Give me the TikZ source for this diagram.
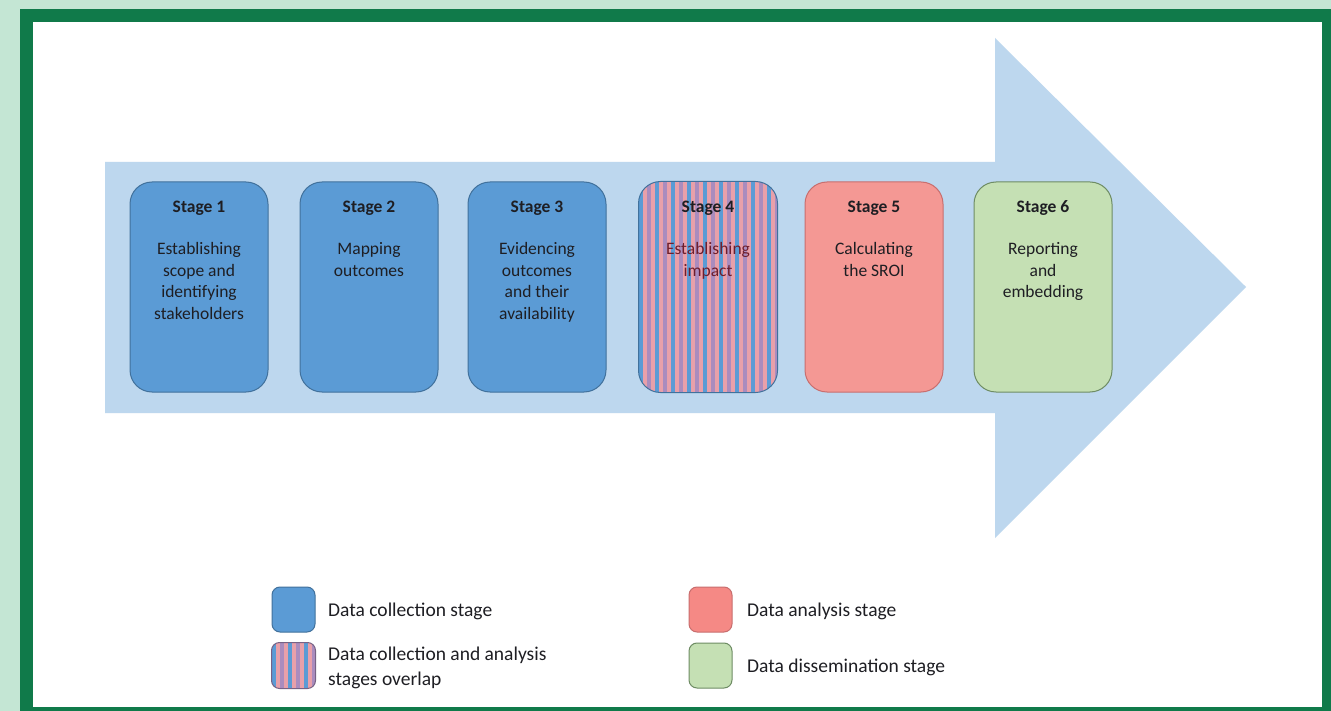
\documentclass[tikz,border=0pt]{standalone}
\usepackage{fontspec}
\setmainfont{Carlito}
\definecolor{mint}{RGB}{196,230,212}
\definecolor{framegreen}{RGB}{16,122,74}
\definecolor{arrowblue}{RGB}{189,215,238}
\definecolor{stblue}{RGB}{91,155,213}
\definecolor{stblueline}{RGB}{65,113,156}
\definecolor{stpink}{RGB}{244,152,148}
\definecolor{stpinkline}{RGB}{200,110,110}
\definecolor{stgreen}{RGB}{197,224,180}
\definecolor{stgreenline}{RGB}{110,140,100}
\definecolor{stripepink}{RGB}{232,160,170}
\definecolor{stripepurple}{RGB}{170,140,190}
\definecolor{txtdark}{RGB}{30,30,35}
\definecolor{txtred}{RGB}{110,30,45}
\begin{document}
\begin{tikzpicture}[x=1pt,y=-1pt,
  stagebox/.style={rounded corners=22pt, minimum width=138pt, minimum height=210pt, inner sep=0pt, line width=1pt},
  stagetitle/.style={anchor=base, inner sep=0pt, font=\fontsize{17.5}{21}\selectfont\bfseries, text=txtdark},
  stagedesc/.style={anchor=north, inner sep=0pt, align=center, font=\fontsize{17.5}{21.5}\selectfont, text=txtdark},
  legbox/.style={rounded corners=8pt, minimum width=43pt, minimum height=45pt, inner sep=0pt, line width=1pt},
  legtext/.style={inner sep=0pt, align=left, font=\fontsize{19.5}{25}\selectfont, text=txtdark}
]
\useasboundingbox (0,0) rectangle (1331,711);
% background and frame
\fill[mint] (0,0) rectangle (1331,711);
\fill[framegreen] (20,9) rectangle (1331,711);
\fill[white] (33,22) rectangle (1322,707);
% big arrow
\fill[arrowblue] (105,162) -- (995,162) -- (995,38) -- (1246,287) -- (995,538) -- (995,413) -- (105,413) -- cycle;
% stage boxes
\node[stagebox, draw=stblueline, fill=stblue] (s1) at (199,287) {};
\node[stagebox, draw=stblueline, fill=stblue] (s2) at (369,287) {};
\node[stagebox, draw=stblueline, fill=stblue] (s3) at (537,287) {};
\node[stagebox] (s4) at (708,287) {};
\begin{scope}
  \clip[rounded corners=22pt] (s4.south west) rectangle (s4.north east);
  \foreach \i in {0,...,35} {
    \pgfmathtruncatemacro{\m}{mod(\i,4)}
    \ifcase\m
      \fill[stblue] (639+\i*4,182) rectangle ++(4,210);
    \or
      \fill[stripepink] (639+\i*4,182) rectangle ++(4,210);
    \or
      \fill[stripepurple] (639+\i*4,182) rectangle ++(4,210);
    \else
      \fill[stripepink] (639+\i*4,182) rectangle ++(4,210);
    \fi
  }
\end{scope}
\draw[rounded corners=22pt, line width=1pt, stblueline] (s4.south west) rectangle (s4.north east);
\node[stagebox, draw=stpinkline, fill=stpink] (s5) at (874,287) {};
\node[stagebox, draw=stgreenline, fill=stgreen] (s6) at (1043,287) {};
% stage texts
\foreach \s/\t in {s1/Stage 1, s2/Stage 2, s3/Stage 3, s4/Stage 4, s5/Stage 5, s6/Stage 6} {
  \node[stagetitle] (\s t) at ([yshift=-31pt]\s.north) {\t};
}
\node[stagedesc] (s1d) at ([yshift=-61pt]s1.north) {Establishing\\scope and\\identifying\\stakeholders};
\node[stagedesc] (s2d) at ([yshift=-61pt]s2.north) {Mapping\\outcomes};
\node[stagedesc] (s3d) at ([yshift=-61pt]s3.north) {Evidencing\\outcomes\\and their\\availability};
\node[stagedesc, text=txtred] (s4d) at ([yshift=-61pt]s4.north) {Establishing\\impact};
\node[stagedesc] (s5d) at ([yshift=-61pt]s5.north) {Calculating\\the SROI};
\node[stagedesc] (s6d) at ([yshift=-61pt]s6.north) {Reporting\\and\\embedding};
% legend
\node[legbox, draw=stblueline, fill=stblue] (l1) at (293.5,609.5) {};
\node[legbox] (l2) at (293.5,665.5) {};
\begin{scope}
  \clip[rounded corners=8pt] (l2.south west) rectangle (l2.north east);
  \foreach \i in {0,...,10} {
    \pgfmathtruncatemacro{\m}{mod(\i,4)}
    \ifcase\m
      \fill[stblue] (272+\i*4,643) rectangle ++(4,45);
    \or
      \fill[stripepink] (272+\i*4,643) rectangle ++(4,45);
    \or
      \fill[stripepurple] (272+\i*4,643) rectangle ++(4,45);
    \else
      \fill[stripepink] (272+\i*4,643) rectangle ++(4,45);
    \fi
  }
\end{scope}
\draw[rounded corners=8pt, line width=1pt, stripepurple!70!black] (l2.south west) rectangle (l2.north east);
\node[legbox, draw=stpinkline, fill=stpink!90!red] (l3) at (710.5,609.5) {};
\node[legbox, draw=stgreenline, fill=stgreen] (l4) at (710.5,665.5) {};
\node[legtext, anchor=base west] (l1t) at (328,616) {Data collection stage};
\node[legtext, anchor=north west] (l2t) at (328,647) {Data collection and analysis\\stages overlap};
\node[legtext, anchor=base west] (l3t) at (747,616) {Data analysis stage};
\node[legtext, anchor=base west] (l4t) at (747,672) {Data dissemination stage};
\end{tikzpicture}
\end{document}
